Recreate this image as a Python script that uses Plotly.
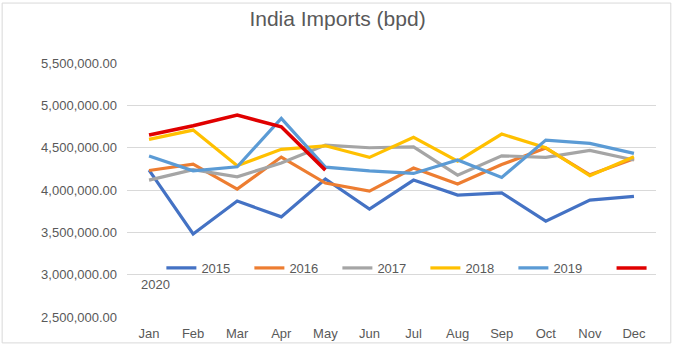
import plotly.graph_objects as go

months = ["Jan", "Feb", "Mar", "Apr", "May", "Jun", "Jul", "Aug", "Sep", "Oct", "Nov", "Dec"]
y2015 = [4235000, 3480000, 3869000, 3683000, 4130000, 3774000, 4117000, 3940000, 3967000, 3632000, 3880000, 3924000]
y2016 = [4230000, 4306000, 4010000, 4389000, 4082000, 3987000, 4259000, 4070000, 4300000, 4495000, 4180000, 4370000]
y2017 = [4117000, 4240000, 4156000, 4320000, 4530000, 4499000, 4510000, 4176000, 4404000, 4385000, 4468000, 4354000]
y2018 = [4598000, 4708000, 4286000, 4480000, 4522000, 4385000, 4622000, 4342000, 4661000, 4499000, 4168000, 4393000]
y2019 = [4401000, 4227000, 4274000, 4846000, 4270000, 4227000, 4196000, 4354000, 4149000, 4590000, 4551000, 4433000]
y2020 = [4649000, 4759000, 4885000, 4747000, 4235000]

series = [
    ("2015", y2015, "#4472C4"),
    ("2016", y2016, "#ED7D31"),
    ("2017", y2017, "#A5A5A5"),
    ("2018", y2018, "#FFC000"),
    ("2019", y2019, "#5B9BD5"),
]

fig = go.Figure()
for name, vals, color in series:
    fig.add_trace(go.Scatter(x=months[:len(vals)], y=vals, name=name, mode="lines",
                             line=dict(color=color, width=3.2), legend="legend"))
fig.add_trace(go.Scatter(x=months[:len(y2020)], y=y2020, name="", mode="lines",
                         line=dict(color="#E00000", width=3.6), legend="legend2"))

font = dict(family="Liberation Sans, Arial, sans-serif", size=13, color="#595959")

fig.update_layout(
    width=675, height=356,
    margin=dict(l=127, r=19, t=63, b=39, autoexpand=False),
    paper_bgcolor="white", plot_bgcolor="white",
    font=font,
    title=dict(text="India Imports (bpd)", x=0.5, xanchor="center", y=0.948, yanchor="middle",
               font=dict(family="Liberation Sans, Arial, sans-serif", size=21, color="#595959")),
    xaxis=dict(showgrid=False, showline=False, ticks="", tickfont=font, range=[-0.5, 11.5],
               ticklabelstandoff=7),
    yaxis=dict(range=[2500000, 5500000], dtick=500000, tickformat=",.2f", showgrid=True,
               gridcolor="#D9D9D9", gridwidth=1, zeroline=False, showline=False, ticks="",
               tickfont=font, ticklabelstandoff=9),
    legend=dict(orientation="h", x=0.065, xanchor="left", y=0.193, yanchor="middle",
                entrywidth=43, entrywidthmode="pixels", font=font, bgcolor="rgba(0,0,0,0)",
                itemwidth=30, tracegroupgap=0),
    legend2=dict(orientation="h", x=0.916, xanchor="left", y=0.193, yanchor="middle",
                 font=font, bgcolor="rgba(0,0,0,0)"),
    showlegend=True,
    shapes=[dict(type="rect", xref="paper", yref="paper", x0=-0.236, x1=1.028, y0=-0.102, y1=1.236,
                 line=dict(color="#D9D9D9", width=1), fillcolor="rgba(0,0,0,0)", layer="below")],
    annotations=[dict(text="2020", xref="paper", yref="paper", x=0.053, y=0.126, showarrow=False,
                      xanchor="center", yanchor="middle", font=font)],
)

fig.write_html("out.html", config={"displayModeBar": False},
               post_script="document.body.style.margin='0';")
